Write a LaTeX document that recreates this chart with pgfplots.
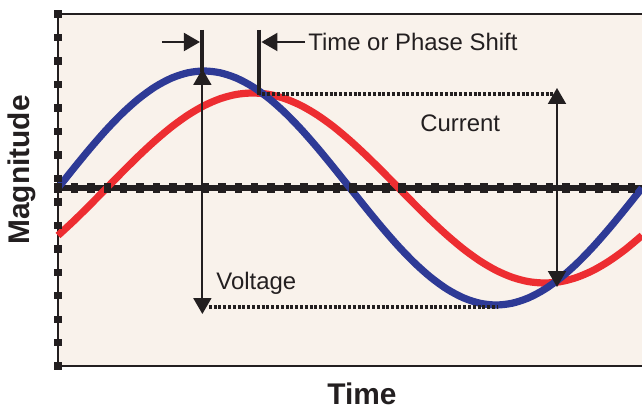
\documentclass[border=0pt]{standalone}
\usepackage{pgfplots}
\pgfplotsset{compat=1.18}
\usepackage{fontspec}
\setmainfont{Liberation Sans}
\usetikzlibrary{arrows.meta,calc}
\definecolor{bgc}{RGB}{249,242,235}
\definecolor{vblue}{RGB}{46,58,150}
\definecolor{cred}{RGB}{237,45,49}
\definecolor{ink}{RGB}{35,31,32}
\begin{document}
\begin{tikzpicture}
\begin{axis}[
  name=ax, at={(0,0)}, anchor=south west,
  width=292bp, height=176bp, scale only axis,
  xmin=0, xmax=360, ymin=-178, ymax=174,
  axis line style={draw=none},
  xtick=\empty, ytick=\empty,
  axis background/.style={fill=bgc},
  clip=false,
]
% frame: left, top, bottom
\draw[ink, line width=1.1bp] (rel axis cs:1,1) -- (rel axis cs:0,1) -- (rel axis cs:0,0) -- (rel axis cs:1,0);
% left axis tick squares
\addplot[only marks, mark=square*, mark size=1.6bp, color=ink] coordinates {
(0,174) (0,150.5) (0,127.1) (0,103.6) (0,80.1) (0,56.6) (0,33.2) (0,9.7)
(0,-13.8) (0,-37.2) (0,-60.7) (0,-84.2) (0,-107.6) (0,-131.1) (0,-154.6) (0,-178)};
% midline
\addplot[ink, line width=2.7bp] coordinates {(0,0) (360,0)};
\addplot[only marks, mark=square*, mark size=2.3bp, mark options={xscale=0.7}, color=ink] coordinates {
(0,0) (10.1,0) (20.2,0) (30.3,0) (40.4,0) (50.5,0) (60.6,0) (70.7,0) (80.8,0) (90.9,0)
(101.0,0) (111.1,0) (121.2,0) (131.3,0) (141.4,0) (151.5,0) (161.6,0) (171.7,0) (181.8,0) (191.9,0)
(202.0,0) (212.1,0) (222.2,0) (232.3,0) (242.4,0) (252.5,0) (262.6,0) (272.7,0) (282.8,0) (292.9,0)
(303.0,0) (313.1,0) (323.2,0) (333.3,0) (343.4,0) (353.5,0)};
% current (red)
\addplot[cred, line width=3.6bp, smooth] coordinates {
(0,-47.5) (10,-32.5) (20,-16.5) (30,0) (40,16.5) (50,32.5) (60,47.5) (70,61.1) (80,72.8) (90,82.3)
(100,89.3) (110,93.6) (120,95) (130,93.6) (140,89.3) (150,82.3) (160,72.8) (170,61.1) (180,47.5)
(190,32.5) (200,16.5) (210,0) (220,-16.5) (230,-32.5) (240,-47.5) (250,-61.1) (260,-72.8) (270,-82.3)
(280,-89.3) (290,-93.6) (300,-95) (310,-93.6) (320,-89.3) (330,-82.3) (340,-72.8) (350,-61.1) (360,-47.5)};
% voltage (blue)
\addplot[vblue, line width=3.6bp, smooth] coordinates {
(0,0) (10,20.3) (20,40.0) (30,58.5) (40,75.2) (50,89.6) (60,101.3) (70,109.9) (80,115.2) (90,117)
(100,115.2) (110,109.9) (120,101.3) (130,89.6) (140,75.2) (150,58.5) (160,40.0) (170,20.3) (180,0)
(190,-20.3) (200,-40.0) (210,-58.5) (220,-75.2) (230,-89.6) (240,-101.3) (250,-109.9) (260,-115.2) (270,-117)
(280,-115.2) (290,-109.9) (300,-101.3) (310,-89.6) (320,-75.2) (330,-58.5) (340,-40.0) (350,-20.3) (360,0)};
% annotations
\draw[ink, line width=1.6bp, dash pattern=on 1.5bp off 0.9bp] (axis cs:93,-119) -- (axis cs:271,-119);
\draw[ink, line width=1.6bp, dash pattern=on 1.5bp off 0.9bp] (axis cs:126,94) -- (axis cs:305,94);
\draw[ink, line width=2bp] (axis cs:89,158) -- (axis cs:89,116);
\draw[ink, line width=2bp] (axis cs:124,158) -- (axis cs:124,93);
\draw[ink, line width=1bp, {Triangle[width=9bp,length=8bp]}-{Triangle[width=9bp,length=8bp]}] (axis cs:89,119) -- (axis cs:89,-126);
\draw[ink, line width=1bp, {Triangle[width=9bp,length=8bp]}-{Triangle[width=9bp,length=8bp]}] (axis cs:307.6,100) -- (axis cs:307.6,-99);
\draw[ink, line width=1bp, -{Triangle[width=9bp,length=8bp]}] (axis cs:64,146) -- (axis cs:87.5,146);
\draw[ink, line width=1bp, -{Triangle[width=9bp,length=8bp]}] (axis cs:152.3,146) -- (axis cs:125.4,146);
\node[ink, anchor=west, inner sep=0pt, font=\fontsize{12}{14}\selectfont] at (axis cs:154.1,146) {Time or Phase Shift};
\node[ink, anchor=west, inner sep=0pt, font=\fontsize{12}{14}\selectfont] at (axis cs:223.1,65) {Current};
\node[ink, anchor=west, inner sep=0pt, font=\fontsize{12}{14}\selectfont] at (axis cs:97.4,-95) {Voltage};
\node[ink, inner sep=0pt, rotate=90, font=\fontsize{15}{18}\selectfont\bfseries] at (axis cs:-22.2,18) {Magnitude};
\node[ink, inner sep=0pt, font=\fontsize{15}{18}\selectfont\bfseries] at (axis cs:187.4,-206) {Time};
\end{axis}
\pgfresetboundingbox
\path ($(ax.south west)+(-29bp,-21bp)$) rectangle ($(ax.south west)+(292bp,183bp)$);
\end{tikzpicture}
\end{document}
